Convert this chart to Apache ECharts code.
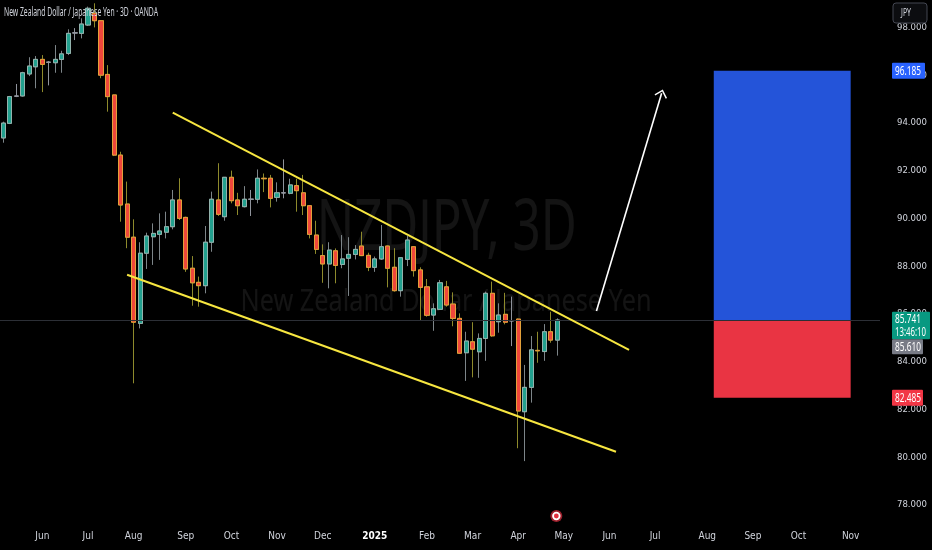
<!DOCTYPE html>
<html><head><meta charset="utf-8">
<script src="https://cdn.jsdelivr.net/npm/echarts@6/dist/echarts.min.js"></script>
<style>html,body{margin:0;padding:0;background:#000;}#c{width:932px;height:550px;}</style>
</head><body><div id="c"></div>
<script>
// ---- data ----
const opens  = [93.37,93.98,95.12,95.13,96.05,96.35,96.66,96.54,96.52,96.66,96.91,97.77,97.75,98.10,98.59,98.28,96.03,95.17,92.65,90.60,
                89.21,85.60,88.54,89.23,89.33,89.42,89.65,90.77,90.04,87.91,87.32,87.18,89.00,90.77,90.07,91.72,90.77,90.49,90.80,90.80,
                91.68,91.68,90.88,91.07,91.05,91.37,91.07,90.53,89.30,88.44,88.09,88.64,88.07,88.33,88.49,88.84,88.45,87.95,88.30,88.84,
                87.95,86.97,88.28,88.81,87.84,87.13,85.95,86.19,87.13,86.41,85.81,84.37,84.83,84.41,84.97,86.86,85.67,85.98,85.71,85.78,
                81.90,82.92,84.47,84.42,85.25,84.90];
const closes = [93.99,95.10,95.12,96.10,96.38,96.66,96.45,96.54,96.66,96.89,97.75,97.77,98.14,98.80,98.28,96.00,95.10,92.65,90.56,89.21,
                85.65,88.54,89.26,89.37,89.47,89.65,90.77,90.00,87.88,87.30,87.18,89.00,90.80,90.17,91.72,90.74,90.53,90.80,90.80,91.68,
                91.66,90.84,91.07,91.07,91.40,91.16,90.53,89.33,88.70,88.09,88.67,88.03,88.30,88.49,88.70,88.44,87.95,88.30,88.81,87.91,
                86.97,88.35,89.09,87.81,87.11,85.94,86.21,87.30,86.37,85.81,84.35,84.86,84.52,84.97,86.86,85.08,85.95,85.65,85.71,81.93,
                82.92,84.49,84.45,85.25,84.90,85.741];
const lows   = [93.17,93.95,95.08,95.10,95.96,95.45,95.29,95.57,96.10,96.10,96.84,97.47,97.54,98.06,98.00,95.87,94.47,92.61,89.86,88.75,
                83.09,85.39,87.88,88.05,88.26,89.16,89.54,89.93,87.76,86.34,86.30,86.86,88.60,90.10,89.90,90.63,90.14,90.46,90.10,90.63,
                91.10,90.46,90.70,90.84,91.01,90.28,90.14,89.16,88.51,87.30,87.07,87.28,87.91,86.75,88.28,88.42,87.79,87.76,88.26,87.11,
                86.93,86.72,88.00,87.56,85.74,85.88,85.29,86.16,86.30,85.48,84.32,83.19,83.34,83.32,84.03,85.04,85.21,85.56,84.65,80.37,
                79.83,82.28,83.95,84.03,84.79,84.25];
const highs  = [94.05,95.13,95.63,96.14,96.75,96.80,96.84,96.59,97.26,97.02,97.92,97.97,98.38,98.87,99.01,98.31,96.42,95.17,92.79,91.54,
                89.96,89.00,89.40,89.79,90.21,90.28,91.19,91.68,90.07,88.42,87.56,89.68,91.12,92.31,91.72,92.00,91.07,91.35,91.19,92.05,
                91.88,91.82,91.51,92.47,91.66,91.66,91.82,90.56,89.90,88.91,89.00,88.74,89.30,89.21,88.88,89.44,88.56,88.40,89.72,88.86,
                88.75,88.37,89.26,88.84,87.95,87.46,86.44,87.42,87.38,86.90,86.02,85.25,85.65,85.18,86.93,87.35,86.44,86.88,86.72,85.80,
                83.86,85.07,85.25,85.57,86.09,85.81];
const totalBars   = 135;
const monthLabels = ['Jun','Jul','Aug','Sep','Oct','Nov','Dec','2025','Feb','Mar','Apr','May','Jun','Jul','Aug','Sep','Oct','Nov'];
const monthIdx    = [6,13,20,28,35,42,49,57,65,72,79,86,93,100,108,115,122,130];
const priceMin = 78, priceMax = 98, priceStep = 2;
const upperLine = [[26, 94.43], [96, 84.49]];
const lowerLine = [[19, 87.64], [94, 80.22]];
const arrowLine = [[91, 86.12], [101, 95.24]];
const entryPrice = 85.741, targetPrice = 96.185, stopPrice = 82.485, prevPrice = 85.610;
const positionSpan = [109, 130];
const countdown = '13:46:10';
const titleText = 'New Zealand Dollar / Japanese Yen · 3D · OANDA';
const wmSymbol = 'NZDJPY, 3D';
const wmName = 'New Zealand Dollar / Japanese Yen';
const currency = 'JPY';

// ---- build ----
const barIds = Array.from({length: totalBars}, (_, i) => 'b' + i);
const wickData = opens.map((o, i) => [o, closes[i], lows[i], highs[i]]);
const bodyData = opens.map((o, i) => [o, closes[i], Math.min(o, closes[i]), Math.max(o, closes[i])]);
const NARROW = '"Liberation Sans Narrow","DejaVu Sans Condensed","Liberation Sans",sans-serif';
const SANS = '"Noto Sans"';
const BULL = '#22a08e', BEAR = '#ef473b';

const chart = echarts.init(document.getElementById('c'), null, {renderer: 'canvas'});
const option = {
  backgroundColor: '#000',
  animation: false,
  grid: {left: 0, right: 52, top: 27.4, bottom: 45.2, containLabel: false},
  xAxis: {
    type: 'category', data: barIds, boundaryGap: true,
    axisLine: {show: false}, axisTick: {show: false}, splitLine: {show: false},
    axisLabel: {
      interval: 0, margin: 27, color: '#d1d4dc', fontSize: 10, fontFamily: NARROW,
      formatter: (v, idx) => {
        const k = monthIdx.indexOf(idx);
        if (k < 0) return '';
        const t = monthLabels[k];
        return /^\d{4}$/.test(t) ? '{y|' + t + '}' : t;
      },
      rich: {y: {fontWeight: 'bold', color: '#ffffff', fontSize: 10, fontFamily: NARROW}}
    }
  },
  yAxis: {
    type: 'value', position: 'right', min: priceMin, max: priceMax, interval: priceStep,
    axisLine: {show: false}, axisTick: {show: false}, splitLine: {show: false},
    axisLabel: {margin: 17, color: '#d1d4dc', fontSize: 9.5, fontFamily: NARROW,
      formatter: v => v.toFixed(3)}
  },
  series: [
    {
      type: 'candlestick', name: 'wicks', data: wickData, barWidth: 4.6, clip: false, z: 2,
      itemStyle: {color: BULL, color0: BEAR, borderColor: '#7d8589', borderColor0: '#8e8a2c',
        borderColorDoji: '#8f939b', borderWidth: 1},
      markLine: {
        silent: true, symbol: ['none', 'none'], label: {show: false}, animation: false,
        lineStyle: {color: '#2c2f36', width: 1, type: 'solid'},
        data: [{yAxis: entryPrice}]
      }
    },
    {
      type: 'candlestick', name: 'bodies', data: bodyData, barWidth: 4.6, clip: false, z: 3,
      itemStyle: {color: BULL, color0: BEAR, borderColor: '#93b3ad', borderColor0: '#e3a03a',
        borderColorDoji: '#9598a1', borderWidth: 1},
      markArea: {
        silent: true, animation: false,
        data: [
          [{coord: [positionSpan[0], targetPrice], itemStyle: {color: '#2454d9', opacity: 1}},
           {coord: [positionSpan[1], entryPrice]}],
          [{coord: [positionSpan[0], entryPrice], itemStyle: {color: '#e93443', opacity: 1}},
           {coord: [positionSpan[1], stopPrice]}]
        ]
      },
      markLine: {
        silent: true, symbol: ['none', 'none'], label: {show: false}, animation: false,
        lineStyle: {color: '#f7e640', width: 2, type: 'solid'},
        data: [
          [{coord: upperLine[0]}, {coord: upperLine[1]}],
          [{coord: lowerLine[0]}, {coord: lowerLine[1]}],
          [{coord: arrowLine[0], symbol: 'none', lineStyle: {color: '#ffffff', width: 1.6}},
           {coord: arrowLine[1], symbol: 'path://M0,10 L10,0 L20,10 L18.4,11.6 L10,3.2 L1.6,11.6 Z',
            symbolSize: [13, 8], lineStyle: {color: '#ffffff', width: 1.6}}]
        ]
      }
    }
  ]
};
chart.setOption(option);

// ---- overlays positioned through the axes ----
const yPx = v => chart.convertToPixel({yAxisIndex: 0}, v);
const xPx = i => chart.convertToPixel({xAxisIndex: 0}, i);
const mctx = document.createElement('canvas').getContext('2d');
function fit(text, size, family, w) { mctx.font = size + 'px ' + family; return w / mctx.measureText(text).width; }
const lab = (yc, h, w, fill, lines, textW) => {
  const els = [{type: 'rect', shape: {x: 892, y: yc - h / 2, width: w, height: h, r: 1}, style: {fill: fill}, z: 100}];
  lines.forEach((t, k) => els.push({type: 'text', x: 895, y: yc - h / 2 + (k + 0.5) * (h / lines.length) + 0.5,
    scaleX: Math.min(1, fit(t, 12, SANS, textW[k])),
    style: {text: t, fill: '#ffffff', fontSize: 12, fontFamily: SANS, verticalAlign: 'middle', align: 'left'}, z: 101}));
  return els;
};
const yE = yPx(entryPrice);
const graphics = [
  {type: 'text', x: 446.7, y: 229, scaleX: fit(wmSymbol, 72, SANS, 260), z: 0,
    style: {text: wmSymbol, fill: 'rgba(255,255,255,0.08)', fontSize: 72, fontFamily: SANS, align: 'center', verticalAlign: 'middle'}},
  {type: 'text', x: 446, y: 302, scaleX: fit(wmName, 30, SANS, 411), z: 0,
    style: {text: wmName, fill: 'rgba(255,255,255,0.08)', fontSize: 30, fontFamily: SANS, align: 'center', verticalAlign: 'middle'}},
  {type: 'text', x: 4, y: 13, scaleX: fit(titleText, 12, SANS, 154), z: 100,
    style: {text: titleText, fill: '#d1d4dc', fontSize: 12, fontFamily: SANS, align: 'left', verticalAlign: 'middle'}},
  {type: 'rect', shape: {x: 893, y: 3, width: 34, height: 20, r: 3}, style: {fill: '#0c0d10', stroke: '#434651', lineWidth: 1}, z: 100},
  {type: 'text', x: 901, y: 13.5, scaleX: fit(currency, 10, SANS, 10),
    style: {text: currency, fill: '#d1d4dc', fontSize: 10, fontFamily: SANS, align: 'left', verticalAlign: 'middle'}, z: 101},
  ...lab(yPx(targetPrice), 16, 33, '#2962ff', [targetPrice.toFixed(3)], [26]),
  ...lab(yE + 5.5, 27.6, 38, '#089981', [entryPrice.toFixed(3), countdown], [26, 31]),
  ...lab(yE + 5.5 + 13.8 + 7.5, 15, 31, '#787b86', [prevPrice.toFixed(3)], [26]),
  ...lab(yPx(stopPrice), 16, 31, '#f23645', [stopPrice.toFixed(3)], [26]),
  {type: 'circle', shape: {cx: xPx(opens.length - 1) - 1, cy: 516, r: 6}, style: {fill: '#9c1f2b'}, z: 100},
  {type: 'circle', shape: {cx: xPx(opens.length - 1) - 1, cy: 516, r: 4.2}, style: {fill: '#ffffff'}, z: 101},
  {type: 'circle', shape: {cx: xPx(opens.length - 1) - 1, cy: 516, r: 2.4}, style: {fill: '#e0303f'}, z: 102}
];
chart.setOption({graphic: graphics});
</script>
</body></html>
